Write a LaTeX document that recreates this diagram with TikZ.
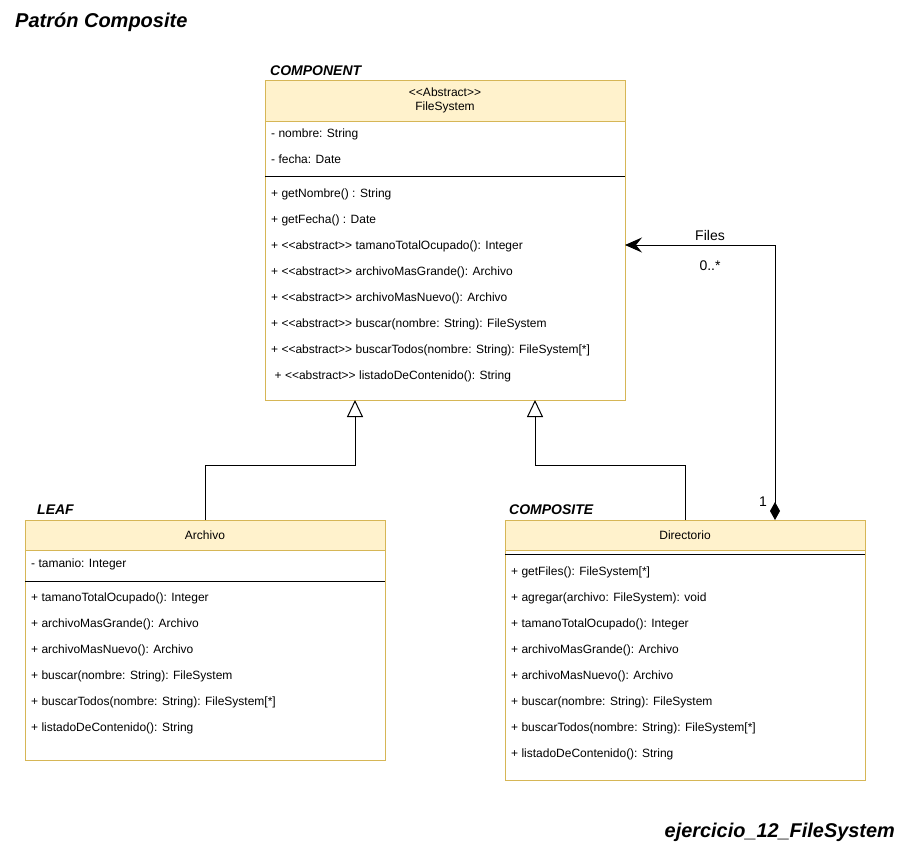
\documentclass[tikz,border=0pt]{standalone}
\usepackage{fontspec}
\newfontfamily\umlfont{Liberation Sans}
\usetikzlibrary{arrows.meta,calc}
\definecolor{hdrfill}{HTML}{FFF2CC}
\definecolor{hdrline}{HTML}{D6B656}

\tikzset{
  member/.style={anchor=west, inner sep=0pt, text height=8.6pt, text depth=0pt,
    font=\umlfont\fontsize{12}{14}\selectfont},
  classbox/.style={draw=hdrline, fill=white, line width=1pt, anchor=north west,
    inner sep=0pt, outer sep=0pt},
  header/.style={draw=hdrline, fill=hdrfill, line width=1pt, anchor=north west,
    inner sep=0pt, outer sep=0pt, align=center,
    font=\umlfont\fontsize{12}{14}\selectfont},
  role/.style={anchor=base west, inner sep=0pt,
    font=\umlfont\bfseries\itshape\fontsize{14}{16}\selectfont},
  sep/.style={line width=1pt, draw=black},
  inh/.style={line width=1pt, -{Triangle[open, length=17pt, width=16pt, fill=white]}},
  comp/.style={line width=1pt,
    {Diamond[length=18pt, width=10pt]}-{Stealth[length=17pt, width=15pt, inset=6pt]}},
  lbl/.style={inner sep=0pt, text height=10pt, text depth=0pt,
    font=\umlfont\fontsize{14}{16}\selectfont},
}

\begin{document}
\begin{tikzpicture}[x=1pt, y=-1pt]
\useasboundingbox (0,0) rectangle (904,851);

% titles
\node[anchor=base west, inner sep=0pt, font=\umlfont\bfseries\itshape\fontsize{20}{24}\selectfont]
  (title) at (15,27.5) {Patrón Composite};
\node[anchor=base east, inner sep=0pt, font=\umlfont\bfseries\itshape\fontsize{19.9}{24}\selectfont]
  (footer) at (895,837.5) {ejercicio\_12\_FileSystem};

% ---------- FileSystem (component) ----------
\node[role] (rcomp) at (270,75) {COMPONENT};
\node[classbox, minimum width=360pt, minimum height=320pt] (fs) at (265,80) {};
\node[header, minimum width=360pt, minimum height=41pt] (fshead) at (265,80)
  {<<Abstract>>\\FileSystem};
\draw[sep] ($(fs.north west)+(0,96)$) -- ($(fs.north east)+(0,96)$);
\node[member] (fsa1) at (271,133) {- nombre: String};
\node[member] (fsa2) at (271,159) {- fecha: Date};
\node[member] (fsm1) at (271,193) {+ getNombre() : String};
\node[member] (fsm2) at (271,219) {+ getFecha() : Date};
\node[member] (fsm3) at (271,245) {+ <<abstract>> tamanoTotalOcupado(): Integer};
\node[member] (fsm4) at (271,271) {+ <<abstract>> archivoMasGrande(): Archivo};
\node[member] (fsm5) at (271,297) {+ <<abstract>> archivoMasNuevo(): Archivo};
\node[member] (fsm6) at (271,323) {+ <<abstract>> buscar(nombre: String): FileSystem};
\node[member] (fsm7) at (271,349) {+ <<abstract>> buscarTodos(nombre: String): FileSystem[*]};
\node[member] (fsm8) at (274.5,375) {+ <<abstract>> listadoDeContenido(): String};

% ---------- Archivo (leaf) ----------
\node[role] (rleaf) at (37,514) {LEAF};
\node[classbox, minimum width=360pt, minimum height=240pt] (arch) at (25,520) {};
\node[header, minimum width=360pt, minimum height=30pt] (archhead) at (25,520) {Archivo};
\draw[sep] ($(arch.north west)+(0,61)$) -- ($(arch.north east)+(0,61)$);
\node[member] (ara1) at (31,563) {- tamanio: Integer};
\node[member] (arm1) at (31,597) {+ tamanoTotalOcupado(): Integer};
\node[member] (arm2) at (31,623) {+ archivoMasGrande(): Archivo};
\node[member] (arm3) at (31,649) {+ archivoMasNuevo(): Archivo};
\node[member] (arm4) at (31,675) {+ buscar(nombre: String): FileSystem};
\node[member] (arm5) at (31,701) {+ buscarTodos(nombre: String): FileSystem[*]};
\node[member] (arm6) at (31,727) {+ listadoDeContenido(): String};

% ---------- Directorio (composite) ----------
\node[role] (rcompo) at (509,514) {COMPOSITE};
\node[classbox, minimum width=360pt, minimum height=260pt] (dir) at (505,520) {};
\node[header, minimum width=360pt, minimum height=30pt] (dirhead) at (505,520) {Directorio};
\draw[sep] ($(dir.north west)+(0,34)$) -- ($(dir.north east)+(0,34)$);
\node[member] (dm1) at (511,571) {+ getFiles(): FileSystem[*]};
\node[member] (dm2) at (511,597) {+ agregar(archivo: FileSystem): void};
\node[member] (dm3) at (511,623) {+ tamanoTotalOcupado(): Integer};
\node[member] (dm4) at (511,649) {+ archivoMasGrande(): Archivo};
\node[member] (dm5) at (511,675) {+ archivoMasNuevo(): Archivo};
\node[member] (dm6) at (511,701) {+ buscar(nombre: String): FileSystem};
\node[member] (dm7) at (511,727) {+ buscarTodos(nombre: String): FileSystem[*]};
\node[member] (dm8) at (511,753) {+ listadoDeContenido(): String};

% ---------- generalisation ----------
\draw[inh] ($(arch.north west)+(180,0)$) |- ($(fs.south west)+(90,65)$)
  -- ($(fs.south west)+(90,0)$);
\draw[inh] ($(dir.north west)+(180,0)$) |- ($(fs.south west)+(270,65)$)
  -- ($(fs.south west)+(270,0)$);

% ---------- composition: Directorio owns Files ----------
\draw[comp] ($(dir.north west)+(270,0)$) |- ($(fs.north east)+(0,165)$);
\node[lbl] (files) at (710,235) {Files};
\node[lbl] (mult) at (710,265) {0..*};
\node[lbl] (one) at (763,501) {1};
\end{tikzpicture}
\end{document}
